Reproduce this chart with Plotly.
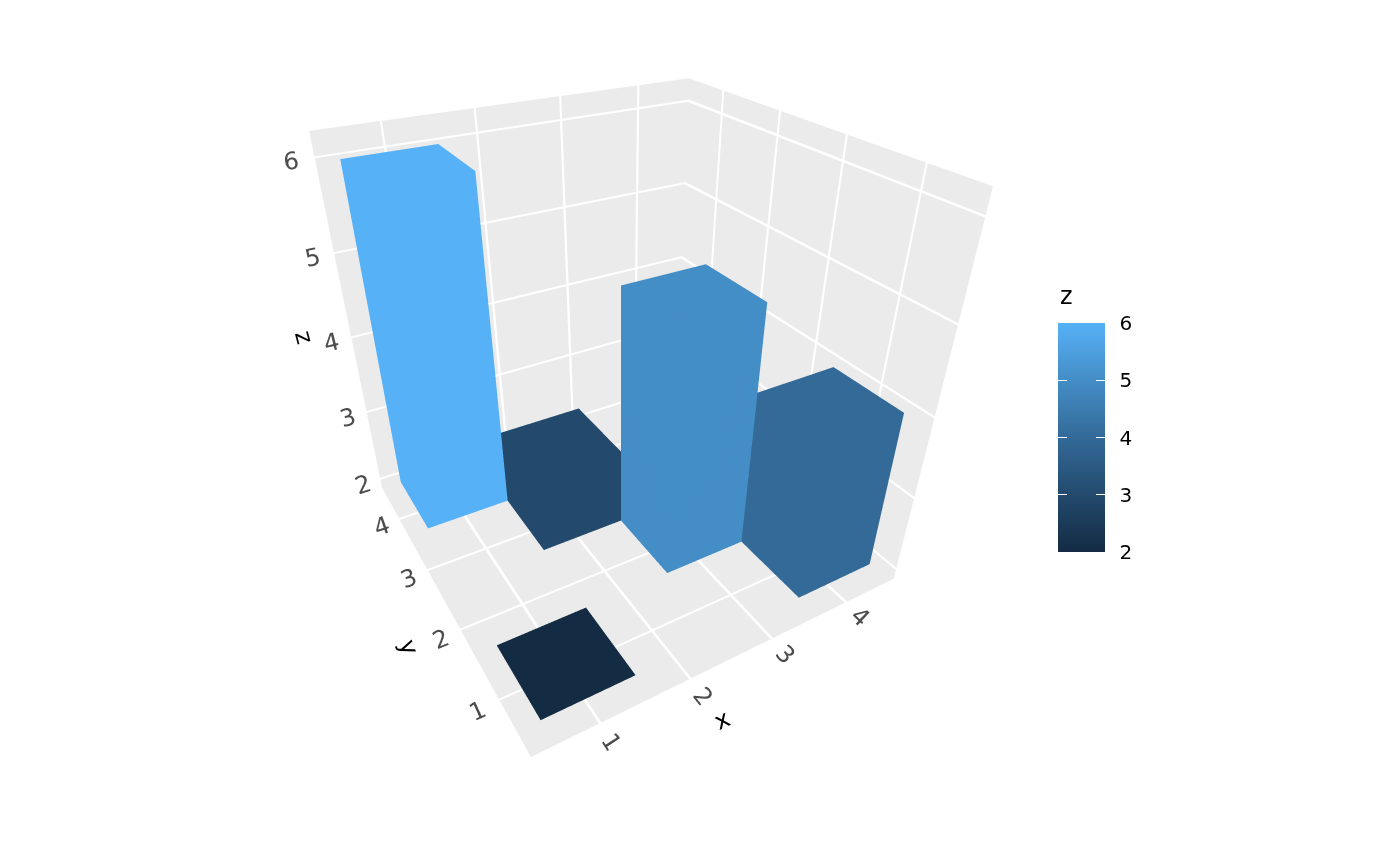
import plotly.graph_objects as go

x_vals = [4, 1, 2, 3, 1]
y_vals = [1, 4, 3, 2, 1]
z_vals = [4, 6, 3, 5, 2]
x_ticks = [1, 2, 3, 4]
y_ticks = [1, 2, 3, 4]
z_ticks = [2, 3, 4, 5, 6]
bar_tick_text = ["\u20022", "\u20023", "\u20024", "\u20025", "\u20026"]
base_z = 2
half = 0.5
colorscale = [[0, "#132B43"], [0.25, "#234A6D"], [0.5, "#336A98"], [0.75, "#448DC6"], [1, "#56B1F7"]]

I = [0, 0, 4, 4, 0, 0, 1, 1, 2, 2, 3, 3]
J = [1, 2, 5, 6, 1, 5, 2, 6, 3, 7, 0, 4]
K = [2, 3, 6, 7, 5, 4, 6, 5, 7, 6, 4, 7]

fig = go.Figure()
for n, (xv, yv, zv) in enumerate(zip(x_vals, y_vals, z_vals)):
    xs = [xv - half, xv + half, xv + half, xv - half] * 2
    ys = [yv - half, yv - half, yv + half, yv + half] * 2
    zs = [base_z] * 4 + [zv] * 4
    fig.add_trace(go.Mesh3d(
        x=xs, y=ys, z=zs, i=I, j=J, k=K,
        intensity=[zv] * 8, coloraxis="coloraxis" if n == 4 else "coloraxis2", flatshading=True,
        lighting=dict(ambient=1, diffuse=0, specular=0, fresnel=0, roughness=1),
    ))

axis = dict(showbackground=True, backgroundcolor="#EBEBEB", gridcolor="white", gridwidth=6,
            zeroline=False, showspikes=False, showline=False, ticks="",
            tickfont=dict(size=17, color="#4D4D4D", family="DejaVu Sans"))

BAR_BOTTOM = (866 - 544) / 866
BAR_LEFT = 1050 / 1400
BAR_RIGHT_PART = 1059 / 1400
title_font = dict(size=24, color="black")


def label(px, py, text, angle=0):
    return dict(xref="paper", yref="paper", x=(px - 8) / 1400, y=1 - (py - 8) / 866, text=text, showarrow=False,
                textangle=angle, xanchor="center", yanchor="middle", font=title_font)


fig.update_layout(
    width=1400, height=866, paper_bgcolor="white", showlegend=False,
    margin=dict(l=0, r=0, t=0, b=0),
    font=dict(family="DejaVu Sans"),
    coloraxis2=dict(cmin=2, cmax=6, colorscale=colorscale, colorbar=dict(
        tickmode="array", tickvals=z_ticks, ticktext=bar_tick_text,
        ticks="inside", tickcolor="white", ticklen=9, tickwidth=1,
        tickfont=dict(size=20, color="black"),
        outlinewidth=0, thickness=38, thicknessmode="pixels",
        len=229, lenmode="pixels", ypad=0, xpad=0,
        x=BAR_RIGHT_PART, xanchor="left", y=BAR_BOTTOM, yanchor="bottom",
    )),
    coloraxis=dict(cmin=2, cmax=6, colorscale=colorscale, colorbar=dict(
        tickvals=z_ticks, ticks="inside", tickcolor="white", ticklen=9, tickwidth=1,
        showticklabels=False, outlinewidth=0, thickness=9, thicknessmode="pixels",
        len=229, lenmode="pixels", ypad=0, xpad=0,
        x=BAR_LEFT, xanchor="left", y=BAR_BOTTOM, yanchor="bottom",
    )),
    scene=dict(
        domain=dict(x=[0, 0.876], y=[0.1155, 0.925]),
        aspectmode="cube",
        xaxis=dict(axis, title=dict(text=""), tickvals=x_ticks, range=[0.3, 4.7]),
        yaxis=dict(axis, title=dict(text=""), tickvals=y_ticks, range=[0.3, 4.7]),
        zaxis=dict(axis, title=dict(text=""), tickvals=z_ticks, range=[1.85, 6.25]),
        camera=dict(eye=dict(x=-0.858, y=-1.479, z=1.02), center=dict(x=0, y=0, z=-0.153), up=dict(x=0, y=0, z=1)),
    ),
    annotations=[
        label(722, 720, "x", -25),
        label(409, 647, "y", 70),
        label(304, 337, "z", 75),
        label(1066, 296, "z"),
    ],
)
fig.write_html("out.html")
